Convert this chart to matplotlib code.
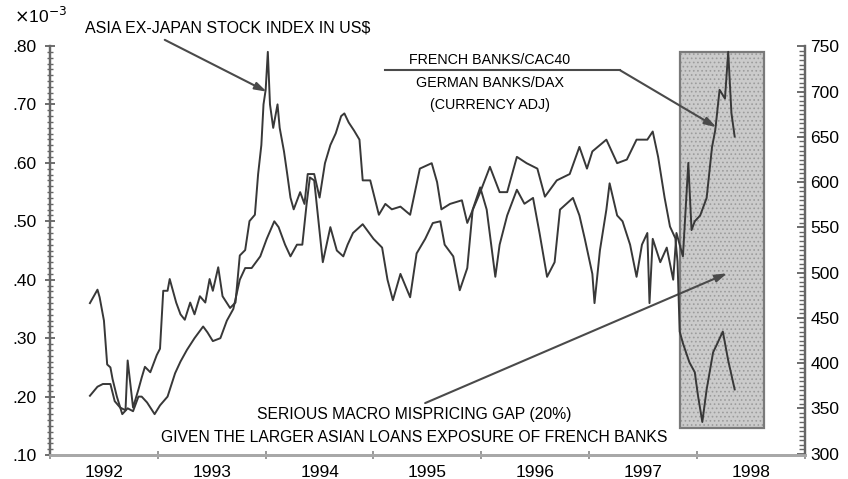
import matplotlib

matplotlib.use("Agg")

import matplotlib.pyplot as plt
from matplotlib.patches import Rectangle
from matplotlib.ticker import FuncFormatter, MultipleLocator

# Asia ex-Japan stock index in US$ (right axis)
asia_years = [
    1992.37, 1992.44, 1992.49, 1992.56, 1992.60, 1992.65, 1992.70, 1992.72, 1992.77, 1992.82,
    1992.85, 1992.88, 1992.93, 1992.99, 1993.02, 1993.05, 1993.09, 1993.11, 1993.17, 1993.21,
    1993.25, 1993.30, 1993.34, 1993.39, 1993.44, 1993.48, 1993.51, 1993.56, 1993.60, 1993.67,
    1993.72, 1993.76, 1993.81, 1993.85, 1993.90, 1993.93, 1993.96, 1993.98, 1994.00, 1994.02,
    1994.04, 1994.07, 1994.11, 1994.13, 1994.17, 1994.20, 1994.23, 1994.26, 1994.32, 1994.36,
    1994.39, 1994.45, 1994.50, 1994.55, 1994.60, 1994.65, 1994.70, 1994.73, 1994.77, 1994.82,
    1994.87, 1994.90, 1994.97, 1995.05, 1995.11, 1995.17, 1995.25, 1995.34, 1995.43, 1995.54,
    1995.59, 1995.63, 1995.71, 1995.82, 1995.87, 1995.99, 1996.08, 1996.17, 1996.24, 1996.33,
    1996.42, 1996.52, 1996.59, 1996.70, 1996.82, 1996.91, 1996.98, 1997.03, 1997.16, 1997.26,
    1997.35, 1997.44, 1997.54, 1997.59, 1997.64, 1997.70, 1997.75, 1997.80, 1997.82, 1997.84,
    1997.87, 1997.93, 1997.98, 1998.01, 1998.05, 1998.09, 1998.15, 1998.19, 1998.24, 1998.29,
    1998.35,
]
asia_index = [
    364, 374, 377, 377, 358, 351, 348, 403, 351, 371,
    384, 396, 390, 409, 416, 480, 480, 493, 467, 454,
    448, 467, 454, 474, 467, 493, 480, 506, 474, 461,
    467, 519, 525, 557, 564, 609, 641, 686, 702, 744,
    686, 660, 686, 660, 634, 609, 583, 570, 589, 576,
    609, 609, 583, 621, 641, 654, 673, 676, 666, 657,
    647, 602, 602, 564, 576, 570, 573, 564, 615, 621,
    600, 570, 576, 580, 555, 589, 617, 589, 589, 628,
    621, 615, 584, 602, 609, 639, 615, 634, 647, 621,
    625, 647, 647, 656, 628, 583, 551, 538, 512, 435,
    422, 401, 390, 364, 335, 371, 412, 422, 435, 403,
    371,
]

# French banks/CAC40 over German banks/DAX, currency adjusted (left axis, x10^-3)
bank_years = [
    1992.37, 1992.44, 1992.46, 1992.50, 1992.53, 1992.56, 1992.58, 1992.62, 1992.67, 1992.72,
    1992.77, 1992.82, 1992.85, 1992.90, 1992.97, 1993.02, 1993.09, 1993.16, 1993.21, 1993.27,
    1993.34, 1993.42, 1993.46, 1993.51, 1993.58, 1993.64, 1993.70, 1993.76, 1993.81, 1993.87,
    1993.95, 1994.01, 1994.08, 1994.12, 1994.18, 1994.23, 1994.29, 1994.34, 1994.38, 1994.41,
    1994.45, 1994.49, 1994.53, 1994.60, 1994.66, 1994.72, 1994.76, 1994.81, 1994.90, 1995.00,
    1995.08, 1995.13, 1995.18, 1995.25, 1995.34, 1995.40, 1995.48, 1995.55, 1995.62, 1995.66,
    1995.74, 1995.80, 1995.87, 1995.92, 1995.99, 1996.05, 1996.13, 1996.17, 1996.24, 1996.33,
    1996.40, 1996.48, 1996.54, 1996.61, 1996.68, 1996.73, 1996.79, 1996.85, 1996.91, 1996.96,
    1997.03, 1997.05, 1997.10, 1997.16, 1997.19, 1997.26, 1997.31, 1997.38, 1997.44, 1997.49,
    1997.54, 1997.56, 1997.59, 1997.66, 1997.72, 1997.78, 1997.81, 1997.87, 1997.92, 1997.95,
    1997.98, 1998.03, 1998.09, 1998.14, 1998.17, 1998.21, 1998.26, 1998.29, 1998.32, 1998.35,
]
bank_ratio = [
    0.360, 0.383, 0.370, 0.330, 0.255, 0.250, 0.230, 0.200, 0.170, 0.180,
    0.175, 0.200, 0.200, 0.190, 0.170, 0.185, 0.200, 0.240, 0.260, 0.280,
    0.300, 0.320, 0.310, 0.295, 0.300, 0.330, 0.350, 0.400, 0.420, 0.420,
    0.440, 0.470, 0.500, 0.490, 0.460, 0.440, 0.460, 0.460, 0.530, 0.575,
    0.570, 0.500, 0.430, 0.490, 0.450, 0.440, 0.460, 0.480, 0.495, 0.470,
    0.455, 0.400, 0.365, 0.410, 0.370, 0.445, 0.470, 0.497, 0.500, 0.460,
    0.440, 0.382, 0.420, 0.520, 0.558, 0.520, 0.405, 0.460, 0.510, 0.554,
    0.530, 0.540, 0.480, 0.405, 0.430, 0.520, 0.530, 0.540, 0.510, 0.470,
    0.410, 0.360, 0.450, 0.520, 0.565, 0.510, 0.500, 0.460, 0.405, 0.460,
    0.480, 0.360, 0.470, 0.430, 0.455, 0.400, 0.480, 0.440, 0.600, 0.485,
    0.500, 0.510, 0.540, 0.627, 0.656, 0.725, 0.710, 0.790, 0.685, 0.645,
]

year_labels = ["1992", "1993", "1994", "1995", "1996", "1997", "1998"]

# shaded "mispricing" window
gap_x = (1997.84, 1998.62)
gap_y = (0.146, 0.790)

LINE = "#383838"
ARROW = "#4a4a4a"
FONT = "Liberation Sans"

plt.rcParams["font.family"] = [FONT, "DejaVu Sans"]
plt.rcParams["hatch.linewidth"] = 0.7

fig = plt.figure(figsize=(8.48, 4.79), dpi=100)
fig.patch.set_facecolor("white")
ax = fig.add_axes([0.059, 0.050, 0.890, 0.854])
ax2 = ax.twinx()

ax.add_patch(
    Rectangle(
        (gap_x[0], gap_y[0]), gap_x[1] - gap_x[0], gap_y[1] - gap_y[0],
        facecolor="#cbcbcb", edgecolor="#9c9c9c", hatch="....", linewidth=0, zorder=0,
    )
)
ax.add_patch(
    Rectangle(
        (gap_x[0], gap_y[0]), gap_x[1] - gap_x[0], gap_y[1] - gap_y[0],
        facecolor="none", edgecolor="#7a7a7a", linewidth=1.6, zorder=1,
    )
)

ax.plot(bank_years, bank_ratio, color=LINE, linewidth=1.4, zorder=3)
ax2.plot(asia_years, asia_index, color=LINE, linewidth=1.4, zorder=3)

ax.set_xlim(1992.0, 1999.0)
ax.set_ylim(0.10, 0.80)
ax2.set_ylim(298.5, 750.5)

# year boundaries get ticks, labels sit mid-year
ax.set_xticks(range(1992, 2000))
ax.set_xticklabels([])
ax.set_xticks([y + 0.5 for y in range(1992, 1999)], minor=True)
ax.set_xticklabels(year_labels, minor=True)
ax.tick_params(axis="x", which="major", direction="inout", length=6, width=1.2, color="#888888")
ax.tick_params(axis="x", which="minor", length=0, pad=7, labelsize=12.5)

ax.yaxis.set_major_locator(MultipleLocator(0.10))
ax.yaxis.set_minor_locator(MultipleLocator(0.01))
ax.yaxis.set_major_formatter(FuncFormatter(lambda v, _: f"{v:.2f}".lstrip("0")))
ax.tick_params(axis="y", which="major", direction="inout", length=7, width=1.2,
               color="#555555", labelsize=12.5, pad=6)
ax.tick_params(axis="y", which="minor", direction="inout", length=5, width=1.0, color="#666666")

ax2.yaxis.set_major_locator(MultipleLocator(50))
ax2.yaxis.set_minor_locator(MultipleLocator(5))
ax2.tick_params(axis="y", which="major", direction="in", length=6, width=1.2,
                color="#555555", labelsize=12.5, pad=4)
ax2.tick_params(axis="y", which="minor", direction="in", length=4, width=1.0, color="#666666")

for a in (ax, ax2):
    a.spines["top"].set_visible(False)
    a.spines["left"].set_color("#666666")
    a.spines["left"].set_linewidth(1.6)
    a.spines["right"].set_color("#666666")
    a.spines["right"].set_linewidth(1.6)
    a.spines["bottom"].set_color("#a8a8a8")
    a.spines["bottom"].set_linewidth(2.0)

fig.text(0.017, 0.966, r"$\times$10$^{-3}$", fontsize=12.5, ha="left", va="center")

arrow_kw = dict(arrowstyle="-|>,head_length=0.7,head_width=0.22", color=ARROW, lw=1.5,
                shrinkA=0, shrinkB=0)

# Asia label and arrow to the early-1994 spike
ax.text(0.046, 1.044, "ASIA EX-JAPAN STOCK INDEX IN US$", transform=ax.transAxes,
        fontsize=11.5, ha="left", va="center", clip_on=False)
ax2.annotate("", xy=(1994.01, 700), xytext=(0.152, 1.015), textcoords="axes fraction",
             arrowprops=arrow_kw, annotation_clip=False)

# French/German banks ratio label, with fraction bar running into the arrow
ax.text(0.583, 0.966, "FRENCH BANKS/CAC40", transform=ax.transAxes, fontsize=10.3,
        ha="center", va="center")
ax.text(0.583, 0.910, "GERMAN BANKS/DAX", transform=ax.transAxes, fontsize=10.3,
        ha="center", va="center")
ax.text(0.583, 0.856, "(CURRENCY ADJ)", transform=ax.transAxes, fontsize=10.3,
        ha="center", va="center")
ax.plot([0.444, 0.755], [0.941, 0.941], transform=ax.transAxes, color=ARROW, lw=1.5,
        clip_on=False)
ax.annotate("", xy=(1998.18, 0.661), xytext=(0.755, 0.941), textcoords="axes fraction",
            arrowprops=arrow_kw)

# gap annotation
ax.text(0.483, 0.098, "SERIOUS MACRO MISPRICING GAP (20%)", transform=ax.transAxes,
        fontsize=11.3, ha="center", va="center")
ax.text(0.483, 0.044, "GIVEN THE LARGER ASIAN LOANS EXPOSURE OF FRENCH BANKS",
        transform=ax.transAxes, fontsize=11.3, ha="center", va="center")
ax.annotate("", xy=(1998.28, 0.411), xytext=(0.497, 0.127), textcoords="axes fraction",
            arrowprops=arrow_kw)

fig.savefig("out.png", dpi=100)
plt.close(fig)
